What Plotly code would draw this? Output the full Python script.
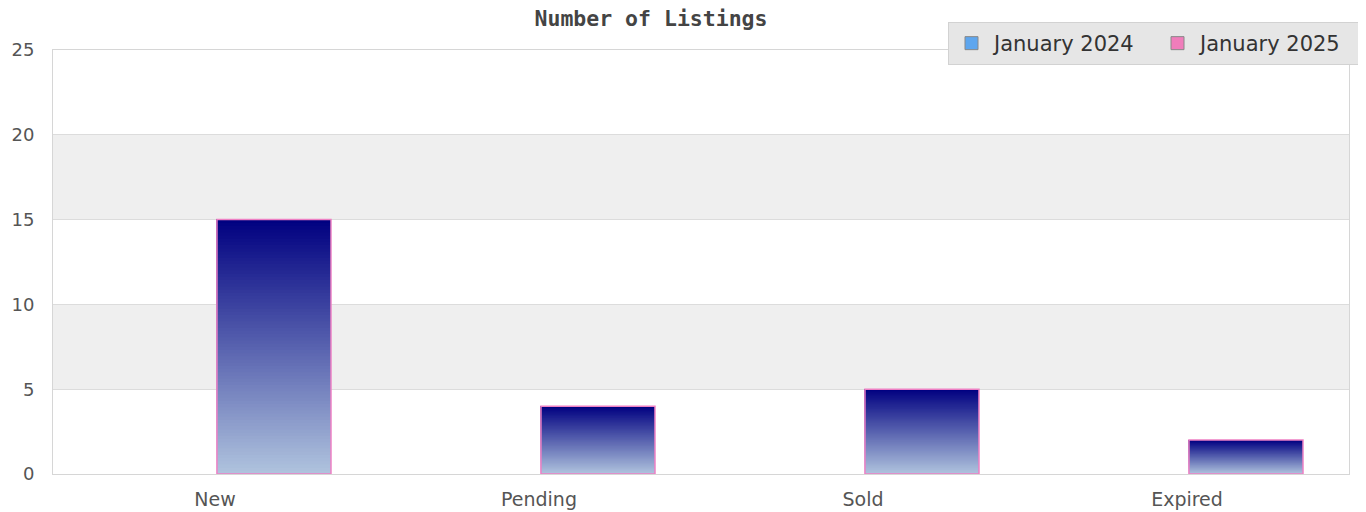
import plotly.graph_objects as go

categories = ["New", "Pending", "Sold", "Expired"]
jan_2024 = [0, 0, 0, 0]
jan_2025 = [15, 4, 5, 2]
y_ticks = [0, 5, 10, 15, 20, 25]
series_names = ["January 2024", "January 2025"]

BAR_W = 0.352
OFF_25 = 0.006
OFF_24 = OFF_25 - BAR_W
N = 80
top_rgb = (0, 0, 128)
bot_rgb = (176, 196, 222)

# page body has an 8px margin, so the figure is slightly smaller than the window
FIG_W, FIG_H = 1358, 504
ML, MR, MT, MB = 45, 17, 42, 38
PW = FIG_W - ML - MR
PH = FIG_H - MT - MB


def lerp(a, b, t):
    return tuple(round(a[k] + (b[k] - a[k]) * t) for k in range(3))


fig = go.Figure()

# January 2024 (all zero)
fig.add_trace(go.Bar(
    x=categories, y=jan_2024, offset=OFF_24, width=BAR_W,
    marker=dict(color="#5ea6ee", line=dict(width=0)),
    showlegend=False, hoverinfo="skip",
))

# January 2025 gradient fill: layered slices, each from its level up to the bar top
xs, bases, hs, cols = [], [], [], []
for i in range(N):
    t = (i + 0.5) / N  # 0 bottom -> 1 top
    c = lerp(bot_rgb, top_rgb, t)
    for cat, v in zip(categories, jan_2025):
        xs.append(cat)
        bases.append(v * i / N)
        hs.append(v - v * i / N)
        cols.append("rgb(%d,%d,%d)" % c)
fig.add_trace(go.Bar(
    x=xs, y=hs, base=bases, offset=OFF_25, width=BAR_W,
    marker=dict(color=cols, line=dict(width=0)),
    showlegend=False, hoverinfo="skip",
))
# outline
fig.add_trace(go.Bar(
    x=categories, y=jan_2025, offset=OFF_25, width=BAR_W,
    marker=dict(color="rgba(0,0,0,0)", line=dict(color="#ee80c4", width=1.5)),
    showlegend=False, name=series_names[1],
))

# legend entries
for name, col in zip(series_names, ["#5ea6ee", "#f07dbb"]):
    fig.add_trace(go.Scatter(
        x=[None], y=[None], mode="markers", name=name,
        marker=dict(symbol="square", size=13, color=col,
                    line=dict(color="#888888", width=1)),
    ))

# alternating bands
shapes = []
for i in range(1, len(y_ticks) - 1, 2):
    shapes.append(dict(type="rect", xref="paper", yref="y", x0=0, x1=1,
                       y0=y_ticks[i], y1=y_ticks[i + 1],
                       fillcolor="#efefef", line=dict(width=0), layer="below"))

fig.update_layout(
    width=FIG_W, height=FIG_H,
    margin=dict(l=ML, r=MR, t=MT, b=MB, autoexpand=False),
    paper_bgcolor="white", plot_bgcolor="white",
    barmode="overlay",
    shapes=shapes,
    title=dict(text="<b>Number of Listings</b>", x=643 / FIG_W, xanchor="center",
               y=1 - 10 / FIG_H, yanchor="middle",
               font=dict(family="DejaVu Sans Mono", size=21.5, color="#444444")),
    legend=dict(orientation="h", x=(1354 - ML) / PW, xanchor="right",
                y=(FIG_H - MB - 14) / PH, yanchor="top",
                bgcolor="#e6e6e6", bordercolor="#d2d2d2", borderwidth=1,
                font=dict(family="DejaVu Sans", size=21, color="#333333"),
                itemwidth=35, tracegroupgap=0,
                entrywidth=156, entrywidthmode="pixels"),
    xaxis=dict(type="category", categoryorder="array", categoryarray=categories,
               range=[-0.5, len(categories) - 0.5], automargin=False,
               showgrid=False, showline=True, linecolor="#d6d6d6", linewidth=1,
               mirror=True, ticks="outside", ticklen=8, tickcolor="rgba(0,0,0,0)",
               tickfont=dict(family="DejaVu Sans", size=19, color="#555555")),
    yaxis=dict(range=[0, 25], tickvals=y_ticks, showgrid=True, gridcolor="#dcdcdc",
               gridwidth=1, zeroline=False, automargin=False,
               showline=True, linecolor="#d6d6d6", linewidth=1, mirror=True,
               ticks="outside", ticklen=14, tickcolor="rgba(0,0,0,0)",
               tickfont=dict(family="DejaVu Sans", size=18, color="#555555")),
    hovermode=False,
)

fig.write_html("out.html")
